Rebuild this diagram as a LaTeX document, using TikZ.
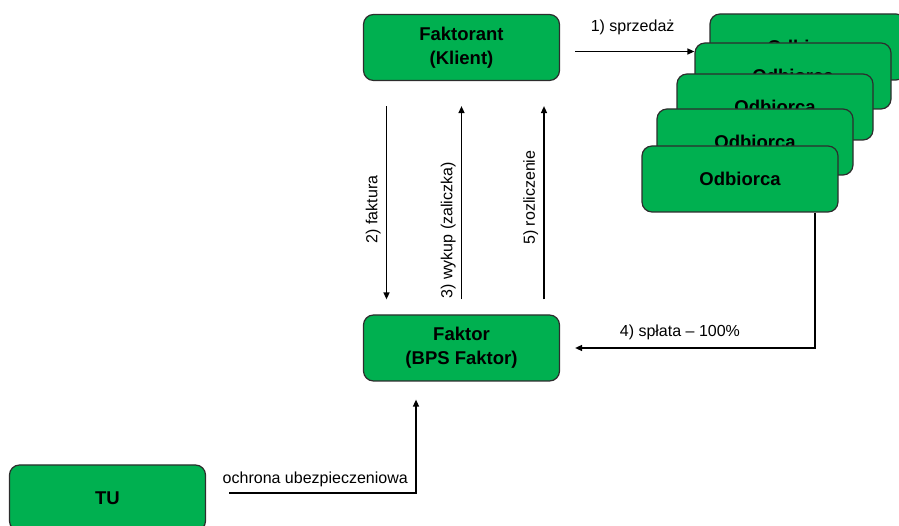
\documentclass[tikz,border=0pt]{standalone}
\usepackage{fontspec}
\setmainfont{Liberation Sans}
\usetikzlibrary{arrows.meta}
\definecolor{boxgreen}{RGB}{0,176,80}
\definecolor{boxline}{RGB}{45,45,45}
\begin{document}
\begin{tikzpicture}[x=1pt,y=1pt,>={Triangle[length=7pt,width=6pt]},
    box/.style={draw=boxline,line width=1.2pt,fill=boxgreen,rounded corners=10pt,
        minimum width=196pt,minimum height=66pt,inner sep=0pt,align=center,
        font=\fontsize{18.5}{24}\selectfont\bfseries},
    flow/.style={->,line width=1.4pt},
    lbl/.style={font=\fontsize{16}{18}\selectfont,inner sep=2pt},
    vlbl/.style={lbl,rotate=90,anchor=south,inner ysep=5pt}]
    \clip (0,0) rectangle (899,526);
    \node[box] (Faktorant) at (461.5,478.5) {Faktorant\\(Klient)};
    \node[box] (Faktor) at (461.5,178) {Faktor\\(BPS Faktor)};
    \node[box] (TU) at (107.5,28) {TU};
    % stos odbiorcow, od tylu do przodu
    \node[box] (O_5) at (808,479) {Odbiorca};
    \node[box] (O_4) at (793,450) {Odbiorca};
    \node[box] (O_3) at (775,419) {Odbiorca};
    \node[box] (O_2) at (755,384) {Odbiorca};
    \node[box] (O_1) at (740,347) {Odbiorca};

    \draw[flow,shorten <=15pt] ([yshift=-4pt]Faktorant.east) -- ([yshift=-4pt]Faktorant.east -| O_4.west)
        node[lbl,pos=0.54,above=13.5pt] {1) sprzedaż};
    \draw[flow,shorten <=25pt,shorten >=15pt] ([xshift=-75pt]Faktorant.south) -- ([xshift=-75pt]Faktor.north)
        node[vlbl,pos=0.55] {2) faktura};
    \draw[flow,shorten <=15pt,shorten >=25pt] (Faktor.north) -- (Faktorant.south)
        node[vlbl,pos=0.36] {3) wykup (zaliczka)};
    \draw[flow,shorten <=15pt,shorten >=25pt] ([xshift=82.5pt]Faktor.north) -- ([xshift=82.5pt]Faktorant.south)
        node[vlbl,pos=0.5] {5) rozliczenie};
    \draw[flow,shorten >=15pt] ([xshift=75pt]O_1.south) |- (Faktor.east)
        node[lbl,pos=0.765,above=5.7pt] {4) spłata – 100\%};
    \draw[flow,shorten <=23pt,shorten >=18pt] ([yshift=5pt]TU.east) -| ([xshift=-45.5pt]Faktor.south)
        node[lbl,pos=0.26,above=3pt] {ochrona ubezpieczeniowa};
\end{tikzpicture}
\end{document}
